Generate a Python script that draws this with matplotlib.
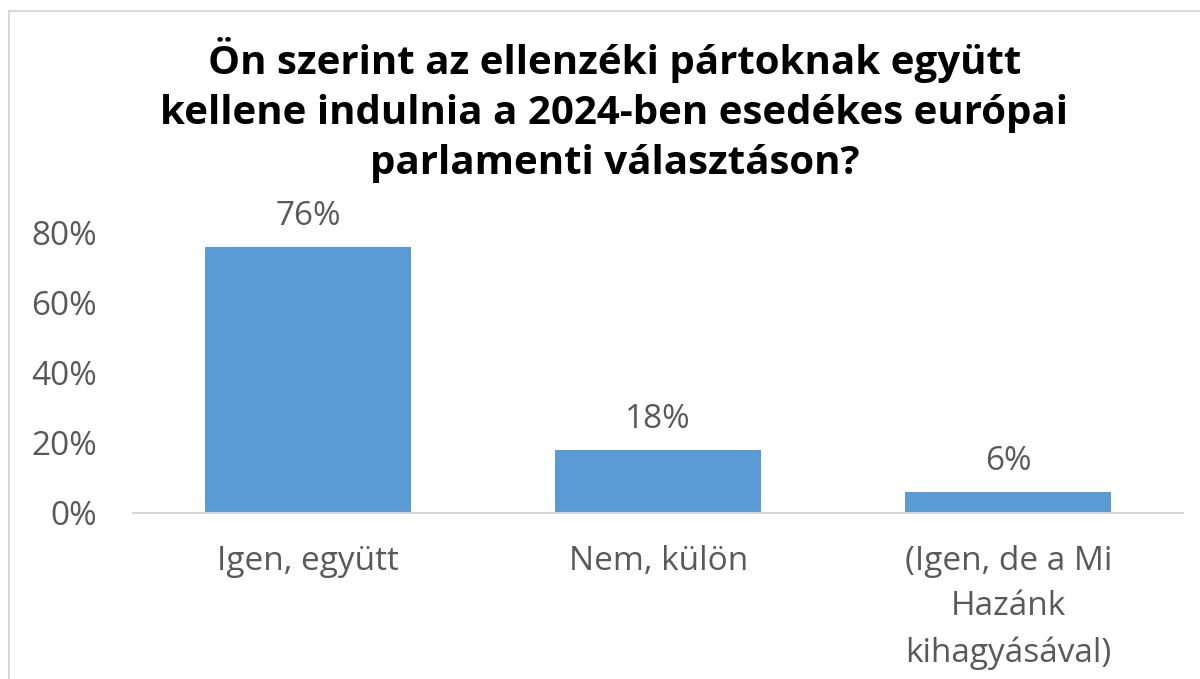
import matplotlib
matplotlib.use('Agg')
from matplotlib import pyplot as plt
from matplotlib.lines import Line2D

categories = ['Igen, együtt', 'Nem, külön', '(Igen, de a Mi\nHazánk\nkihagyásával)']
values = [76, 18, 6]
yticks = [0, 20, 40, 60, 80]
title = ('Ön szerint az ellenzéki pártoknak együtt\n'
         'kellene indulnia a 2024-ben esedékes európai\n'
         'parlamenti választáson?')

plt.rcParams['font.family'] = ['Open Sans', 'DejaVu Sans']
grey = '#595959'

fig = plt.figure(figsize=(12, 6.79), dpi=100)
ax = fig.add_axes([0.111, 0.2445, 0.875, 0.4125])

x = range(len(categories))
bars = ax.bar(x, values, width=0.59, color='#5B9BD5')
for b, v in zip(bars, values):
    ax.annotate('%d%%' % v, (b.get_x() + b.get_width() / 2, v),
                xytext=(0, 10), textcoords='offset points',
                ha='center', va='bottom', fontsize=24, color=grey)

ax.set_xlim(-0.5, 2.5)
ax.set_ylim(0, 80)
ax.set_yticks(yticks)
ax.set_yticklabels(['%d%%' % t for t in yticks], fontsize=24, color=grey)
ax.set_xticks(list(x))
ax.set_xticklabels(categories, fontsize=24, color=grey, linespacing=1.5)
ax.tick_params(axis='both', length=0)
ax.tick_params(axis='y', pad=26)
ax.tick_params(axis='x', pad=23)
for s in ['top', 'right', 'left']:
    ax.spines[s].set_visible(False)
ax.spines['bottom'].set_color('#D9D9D9')
ax.spines['bottom'].set_linewidth(1.5)

fig.text(0.512, 0.838, title, ha='center', va='center', fontsize=29,
         fontweight='bold', color='black', linespacing=1.38)

# outer frame (cropped chart border)
fig.add_artist(Line2D([8.5 / 1200, 8.5 / 1200], [0, 1 - 11 / 679],
                      transform=fig.transFigure, color='#D9D9D9', lw=1.5))
fig.add_artist(Line2D([8.5 / 1200, 1], [1 - 11 / 679, 1 - 11 / 679],
                      transform=fig.transFigure, color='#D9D9D9', lw=1.5))

fig.savefig('out.png', dpi=100)
